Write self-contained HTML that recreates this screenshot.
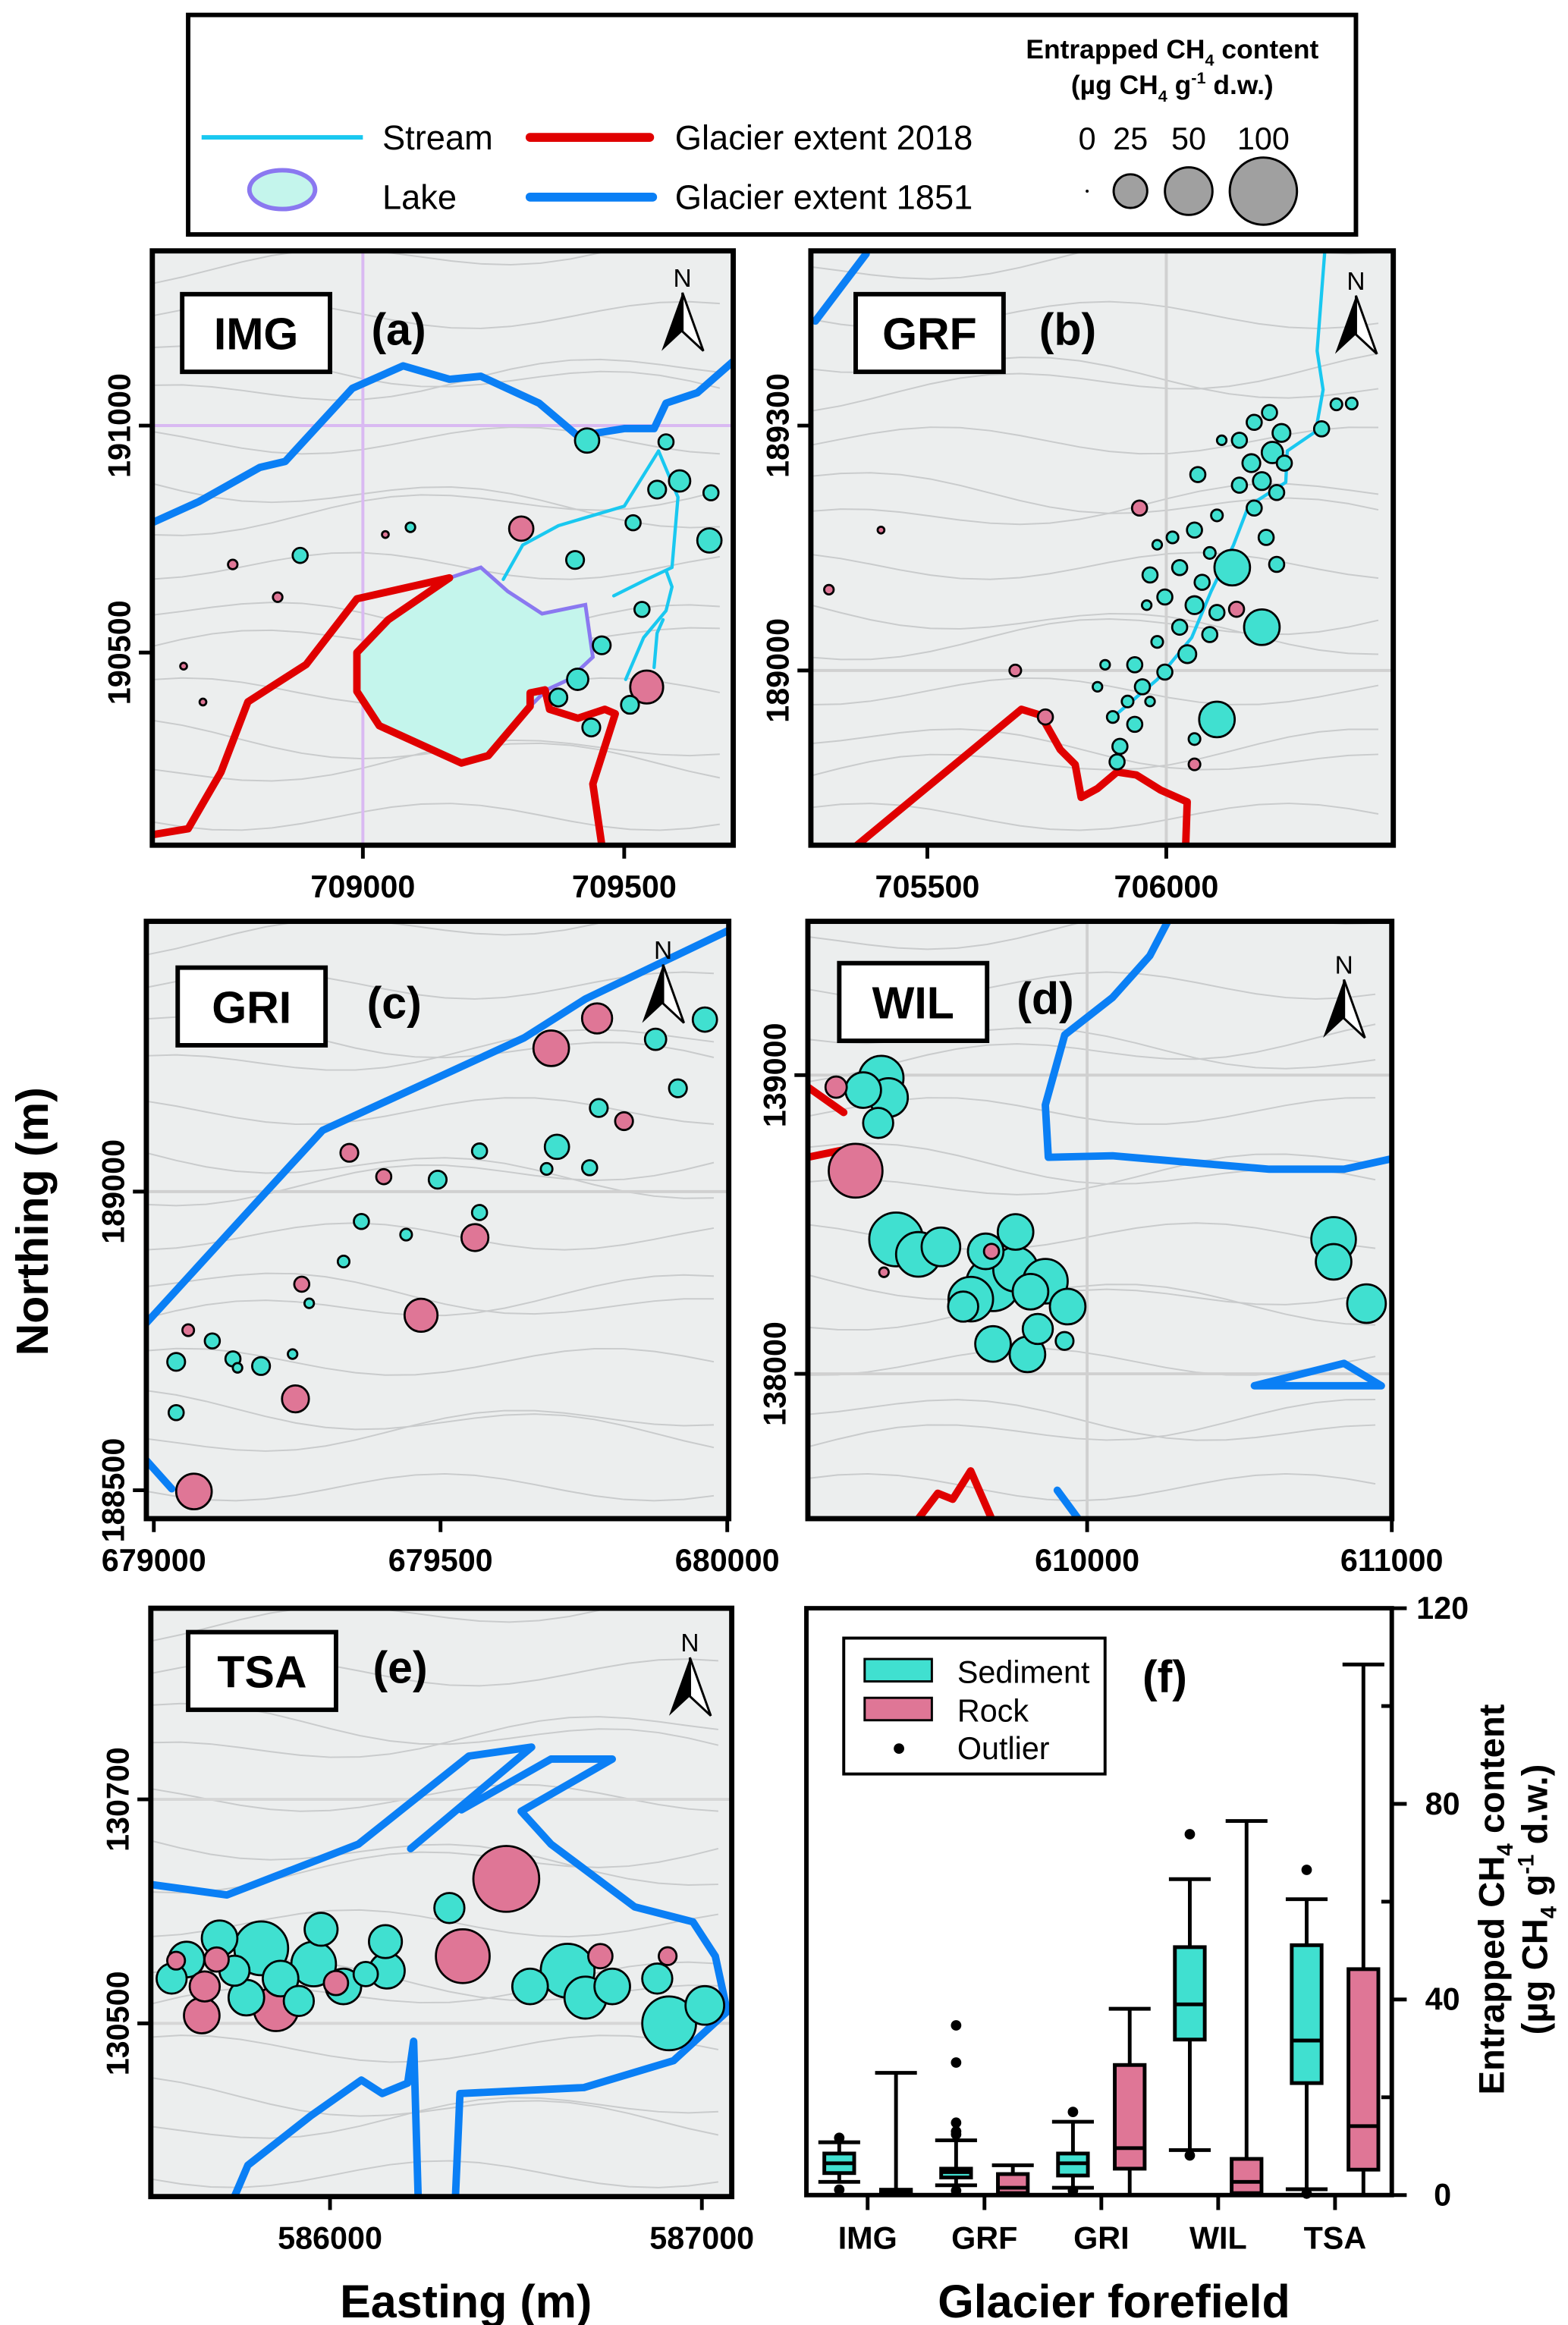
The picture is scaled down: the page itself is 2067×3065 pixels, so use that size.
<!DOCTYPE html>
<html><head><meta charset="utf-8">
<style>
html,body{margin:0;padding:0;background:#fff;}
svg{display:block;}
text{font-family:"Liberation Sans Narrow","Liberation Sans",sans-serif;}
.b{font-weight:bold;}
</style></head>
<body>
<svg id="fig" xmlns="http://www.w3.org/2000/svg" width="2067" height="3065" viewBox="0 0 1050 1557" preserveAspectRatio="none">
<rect x="0" y="0" width="1050" height="1557" fill="#fff"/>

<!-- top legend -->
<g>
<rect x="126" y="10" width="782" height="147" fill="#fff" stroke="#000" stroke-width="3"/>
<line x1="135" y1="92" x2="243" y2="92" stroke="#19c8f0" stroke-width="3"/>
<text x="256" y="100" font-size="23">Stream</text>
<ellipse cx="189" cy="127" rx="22" ry="13" fill="#c4f5ec" stroke="#8a78f0" stroke-width="3"/>
<text x="256" y="140" font-size="23">Lake</text>
<line x1="355" y1="92" x2="435" y2="92" stroke="#e00000" stroke-width="6" stroke-linecap="round"/>
<text x="452" y="100" font-size="23">Glacier extent 2018</text>
<line x1="355" y1="132" x2="437" y2="132" stroke="#0a7ff5" stroke-width="6" stroke-linecap="round"/>
<text x="452" y="140" font-size="23">Glacier extent 1851</text>
<text x="785" y="39" font-size="18" text-anchor="middle" class="b">Entrapped CH<tspan font-size="11" dy="5">4</tspan><tspan dy="-5"> content</tspan></text>
<text x="785" y="63" font-size="18" text-anchor="middle" class="b">(µg CH<tspan font-size="11" dy="5">4</tspan><tspan dy="-5"> g</tspan><tspan font-size="11" dy="-7">-1</tspan><tspan dy="7"> d.w.)</tspan></text>
<g id="sizeLegend"></g>
</g>

<g id="maps"></g>
<g id="boxplot"></g>

<text transform="translate(32,818) rotate(-90)" font-size="30" text-anchor="middle" class="b" style="font-family:'Liberation Sans',sans-serif">Northing (m)</text>
<text x="312" y="1552" font-size="31" text-anchor="middle" class="b" style="font-family:'Liberation Sans',sans-serif">Easting (m)</text>
<text x="746" y="1552" font-size="31" text-anchor="middle" class="b" style="font-family:'Liberation Sans',sans-serif">Glacier forefield</text>
<text transform="translate(1007,1272) rotate(-90)" font-size="24" text-anchor="middle" class="b" style="font-family:'Liberation Sans',sans-serif">Entrapped CH<tspan font-size="15" dy="6">4</tspan><tspan dy="-6"> content</tspan></text>
<text transform="translate(1036,1272) rotate(-90)" font-size="24" text-anchor="middle" class="b" style="font-family:'Liberation Sans',sans-serif">(µg CH<tspan font-size="15" dy="6">4</tspan><tspan dy="-6"> g</tspan><tspan font-size="15" dy="-9">-1</tspan><tspan dy="9"> d.w.)</tspan></text>
</svg>

<script>
// ---------------- DATA ----------------
// map samples: [easting, northing, CH4 content]
const imgSediment = [[709429,190967,13],[709580,190964,5],[709606,190878,10],[709563,190859,7],[709666,190852,5],[709517,190786,5],[709663,190747,13],[709406,190704,7],[708880,190714,5],[709091,190776,2],[709534,190595,5],[709457,190516,7],[709411,190441,10],[709374,190401,7],[709437,190335,7],[709511,190385,7]];
const imgRock = [[709303,190773,13],[709543,190424,24],[709043,190760,1],[708751,190694,2],[708837,190622,2],[708657,190470,1],[708694,190391,1]];
const grfSediment = [[706388,189327,3],[706356,189326,3],[706325,189296,5],[706216,189316,5],[706184,189304,5],[706241,189291,7],[706153,189282,5],[706116,189282,2],[706222,189267,10],[706178,189254,7],[706247,189254,5],[706066,189240,5],[706200,189232,7],[706153,189227,5],[706231,189218,5],[706184,189199,5],[706106,189190,3],[706059,189172,5],[706013,189163,3],[706209,189163,5],[706091,189144,3],[705981,189154,2],[706028,189126,5],[705966,189117,5],[706138,189126,28],[706231,189130,5],[706075,189108,5],[705997,189090,5],[706059,189080,7],[706106,189071,5],[705959,189080,2],[706028,189053,5],[706200,189053,28],[706091,189044,5],[705981,189035,3],[706044,189020,7],[705934,189007,5],[705997,188998,5],[705872,189007,2],[705950,188980,5],[705919,188962,3],[705966,188962,2],[705888,188943,3],[705934,188934,5],[705903,188907,5],[706106,188940,28],[705897,188888,5],[706059,188916,3],[705856,188980,2]];
const grfRock = [[705944,189199,5],[705403,189172,1],[705294,189099,2],[705684,189000,3],[705747,188943,5],[706147,189075,5],[706059,188885,3]];
const griSediment = [[679961,189288,13],[679875,189255,10],[679914,189173,7],[679776,189140,7],[679703,189075,13],[679760,189040,5],[679685,189038,3],[679568,189068,5],[679495,189020,7],[679362,188950,5],[679440,188928,3],[679568,188965,5],[679331,188883,3],[679271,188813,2],[679242,188728,2],[679039,188715,7],[679102,188750,5],[679138,188720,5],[679187,188708,7],[679146,188705,2],[679039,188630,5]];
const griRock = [[679693,189240,28],[679773,189290,20],[679820,189118,7],[679341,189065,7],[679401,189025,5],[679560,188923,16],[679258,188845,5],[679466,188793,24],[679060,188768,3],[679247,188653,16],[679070,188498,28]];
const wilSediment = [[609324,138990,44],[609265,138950,28],[609348,138925,33],[609314,138840,20],[609373,138450,64],[609446,138400,44],[609520,138425,33],[609667,138410,28],[609765,138475,28],[609765,138350,44],[609691,138300,64],[609618,138250,44],[609814,138275,28],[609863,138310,44],[609936,138225,28],[609838,138150,20],[609691,138100,28],[609804,138065,28],[609926,138110,7],[610809,138450,44],[610809,138375,28],[610917,138235,33],[609593,138225,20]];
const wilRock = [[609176,138960,10],[609240,138680,64],[609686,138410,5],[609333,138340,2]];
const tsaSediment = [[585614,130557,28],[585703,130576,28],[585743,130547,20],[585815,130567,64],[585867,130540,28],[585956,130553,44],[585976,130584,24],[586036,130533,28],[585916,130520,20],[585775,130523,28],[586153,130547,28],[586149,130573,24],[586321,130603,20],[586538,130533,28],[586639,130547,64],[586687,130523,39],[586759,130533,28],[586912,130500,64],[587008,130516,33],[586880,130540,20],[585574,130540,20],[586096,130544,13]];
const tsaRock = [[586474,130629,96],[586357,130560,64],[585695,130557,13],[585663,130533,20],[585655,130507,28],[585855,130513,44],[586016,130536,13],[586727,130560,13],[586908,130560,7],[585586,130556,7]];

// map tick labels
const imgXTicks = [709000,709500], imgYTicks = [191000,190500];
const grfXTicks = [705500,706000], grfYTicks = [189300,189000];
const griXTicks = [679000,679500,680000], griYTicks = [189000,188500];
const wilXTicks = [610000,611000], wilYTicks = [139000,138000];
const tsaXTicks = [586000,587000], tsaYTicks = [130700,130500];

// size legend
const legendSizes = [0,25,50,100];

// boxplot (panel f)
const categories = ['IMG','GRF','GRI','WIL','TSA'];
const sedMin = [2.7,2.0,1.5,9.2,1.2];
const sedQ1 = [4.5,3.6,4.0,31.8,22.9];
const sedMed = [6.5,4.7,6.5,39.0,31.6];
const sedQ3 = [8.5,5.4,8.5,50.7,51.1];
const sedMax = [10.8,11.2,15.0,64.6,60.5];
const rockMin = [0,0,0,0,0];
const rockQ1 = [0.3,0.4,5.4,0.4,5.2];
const rockMed = [0.6,1.5,9.6,2.7,14.1];
const rockQ3 = [1.1,4.3,26.6,7.4,46.2];
const rockMax = [25.0,6.1,38.1,76.5,108.5];
const outlierCat = [0,0,1,1,1,1,1,1,2,2,3,3,4,4];
const outlierVal = [11.7,1.1,34.7,27.1,14.8,13.0,12.4,0.9,17.0,0.9,73.8,8.1,66.5,0.3];
const yTicksF = [0,40,80,120];
const yMinorF = [20,60,100];

// ---------------- DRAW ----------------
const NS='http://www.w3.org/2000/svg';
const TEAL='#40e0d0', PINK='#df7696';
function mk(tag, attrs, parent){const e=document.createElementNS(NS,tag);for(const k in attrs)e.setAttribute(k,attrs[k]);parent.appendChild(e);return e;}
function rOf(v){return Math.max(1.2, 2.25*Math.sqrt(v));}

// size legend
const sl=document.getElementById('sizeLegend');
const slx=[728,757,796,846];
legendSizes.forEach((v,i)=>{
  const t=mk('text',{x:slx[i],y:100,'font-size':21,'text-anchor':'middle'},sl); t.textContent=String(v);
  
  
  const c=mk('circle',{cx:slx[i],cy:128,r:v===0?1:rOf(v),fill:v===0?'#000':'#a0a0a0',stroke:'#000','stroke-width':v===0?0:1.5},sl);
  
  
});

const maps=document.getElementById('maps');
function linAxis(d0,p0,d1,p1){return v=>p0+(v-d0)*(p1-p0)/(d1-d0);}

function poly(g,pts,color,w,name,fill){
  const p=mk('polyline',{points:pts.map(q=>q.join(',')).join(' '),fill:fill||'none',stroke:color,'stroke-width':w,'stroke-linejoin':'round','stroke-linecap':'round'},g);
  
  
  return p;
}

const panels=[
 {id:'a',code:'IMG',fr:[102,168,491,566],x:[709000,243,709500,418],y:[191000,285,190500,437],sed:imgSediment,rock:imgRock,xt:imgXTicks,yt:imgYTicks,lab:[122,197],letter:267,north:[457,180],
  grid:{v:[243],h:[285],col:'#d9b9f2'},
  lines:[
   {c:'#0a7ff5',w:5,n:'glacier-1851',p:[[102,350],[133,336],[174,313],[191,309],[236,260],[270,245],[301,254],[322,252],[361,270],[387,292],[418,287],[438,287],[446,270],[467,263],[491,242]]},
   {c:'#19c8f0',w:2.2,n:'stream',p:[[337,388],[350,365],[374,352],[418,339],[441,302]]},
   {c:'#19c8f0',w:2.2,n:'stream',p:[[441,302],[454,333],[450,380],[433,388],[411,399]]},
   {c:'#19c8f0',w:2.2,n:'stream',p:[[446,382],[450,393],[446,409],[431,427],[419,455]]},
   {c:'#19c8f0',w:2.2,n:'stream',p:[[438,447],[440,424],[444,415]]}
  ],
  lake:[[301,387],[322,380],[340,396],[363,411],[392,405],[397,440],[381,455],[366,462],[355,473],[327,506],[309,511],[254,486],[239,463],[239,437],[260,415]],
  red:[[102,559],[126,555],[148,517],[166,470],[205,445],[239,401],[301,387],[260,415],[239,437],[239,463],[254,486],[309,511],[327,506],[355,473],[355,464],[365,462],[368,475],[387,481],[405,475],[412,478],[397,525],[403,566]]},
 {id:'b',code:'GRF',fr:[543,168,933,566],x:[705500,621,706000,781],y:[189300,285,189000,449],sed:grfSediment,rock:grfRock,xt:grfXTicks,yt:grfYTicks,lab:[573,197],letter:715,north:[908,182],
  grid:{v:[781],h:[449],col:'#d0d0d0'},
  lines:[
   {c:'#0a7ff5',w:5,n:'glacier-1851',p:[[546,215],[580,170]]},
   {c:'#19c8f0',w:2.2,n:'stream',p:[[887,170],[882,235],[886,261],[881,289],[862,302],[861,323],[836,339],[826,365],[811,396],[798,427],[775,455],[748,478]]}
  ],
  red:[[574,566],[684,475],[697,479],[710,502],[720,512],[724,534],[735,528],[748,517],[761,519],[777,529],[795,537],[794,566]]},
 {id:'c',code:'GRI',fr:[98,617,488,1017],x:[679000,103,680000,487],y:[189000,798,188500,998],sed:griSediment,rock:griRock,xt:griXTicks,yt:griYTicks,lab:[119,648],letter:264,north:[444,630],
  grid:{v:[],h:[798],col:'#d0d0d0'},
  lines:[
   {c:'#0a7ff5',w:5,n:'glacier-1851',p:[[98,886],[182,794],[216,757],[351,695],[392,669],[488,623]]},
   {c:'#0a7ff5',w:5,n:'glacier-1851',p:[[98,978],[115,997]]}
  ]},
 {id:'d',code:'WIL',fr:[541,617,932,1017],x:[610000,728,611000,932],y:[139000,720,138000,920],sed:wilSediment,rock:wilRock,xt:wilXTicks,yt:wilYTicks,lab:[562,645],letter:700,north:[900,640],
  grid:{v:[728],h:[720,920],col:'#d0d0d0'},
  lines:[
   {c:'#0a7ff5',w:5,n:'glacier-1851',p:[[782,617],[770,640],[745,668],[713,693],[700,740],[702,775],[745,774],[850,783],[900,783],[932,776]]},
   {c:'#0a7ff5',w:5,n:'glacier-1851',p:[[840,928],[900,913],[925,928],[840,928]]},
   {c:'#0a7ff5',w:5,n:'glacier-1851',p:[[708,998],[722,1017]]},
   {c:'#e00000',w:5,n:'glacier-2018',p:[[541,728],[565,745]]},
   {c:'#e00000',w:5,n:'glacier-2018',p:[[541,775],[565,770]]},
   {c:'#e00000',w:5,n:'glacier-2018',p:[[615,1017],[628,1000],[638,1004],[650,985],[664,1017]]}
  ]},
 {id:'e',code:'TSA',fr:[101,1077,490,1471],x:[586000,221,587000,470],y:[130700,1205,130500,1355],sed:tsaSediment,rock:tsaRock,xt:tsaXTicks,yt:tsaYTicks,lab:[126,1093],letter:268,north:[462,1094],
  grid:{v:[],h:[1205,1355],col:'#d6d6d6'},
  lines:[
   {c:'#0a7ff5',w:5,n:'glacier-1851',p:[[101,1262],[152,1269],[240,1235],[314,1176],[356,1170],[275,1238]]},
   {c:'#0a7ff5',w:5,n:'glacier-1851',p:[[309,1212],[369,1178],[410,1178],[349,1213],[369,1235],[425,1277],[464,1287],[479,1310],[487,1347],[451,1380],[391,1398],[308,1402],[305,1471]]},
   {c:'#0a7ff5',w:5,n:'glacier-1851',p:[[157,1471],[166,1450],[208,1417],[242,1393],[256,1402],[273,1395],[277,1367],[280,1471]]}
  ]}
];

panels.forEach(P=>{
  const g=mk('g',{},maps);
  
  
  const [x0,y0,x1,y1]=P.fr;
  const cid='clip'+P.id;
  const cp=mk('clipPath',{id:cid},g); mk('rect',{x:x0,y:y0,width:x1-x0,height:y1-y0},cp);
  const inner=mk('g',{'clip-path':'url(#'+cid+')'},g);
  const bg=mk('rect',{x:x0,y:y0,width:x1-x0,height:y1-y0,fill:'#eceeee'},inner);
  
  
  // decorative contour lines
  for(let k=0;k<14;k++){
    const yy=y0+15+k*28; let d='M'+x0+','+yy;
    for(let xx=x0;xx<=x1;xx+=20){d+=' L'+xx+','+(yy+Math.sin((xx+k*37)/45)*9+(xx-x0)*0.06*((k%3)-1));}
    const cl=mk('path',{d:d,fill:'none',stroke:'#c9cbcc','stroke-width':1},inner);
    
    
  }
  P.grid.v.forEach(v=>{const l=mk('line',{x1:v,y1:y0,x2:v,y2:y1,stroke:P.grid.col,'stroke-width':2},inner);});
  P.grid.h.forEach(v=>{const l=mk('line',{x1:x0,y1:v,x2:x1,y2:v,stroke:P.grid.col,'stroke-width':2},inner);});
  if(P.lake){const lk=mk('polygon',{points:P.lake.map(q=>q.join(',')).join(' '),fill:'#c4f5ec',stroke:'#8a78f0','stroke-width':2.5},inner);}
  if(P.red) poly(inner,P.red,'#e00000',5,'glacier-2018');
  P.lines.forEach(L=>poly(inner,L.p,L.c,L.w,L.n));
  // samples
  const X=linAxis(P.x[0],P.x[1],P.x[2],P.x[3]), Y=linAxis(P.y[0],P.y[1],P.y[2],P.y[3]);
  const all=P.sed.map(s=>[s,TEAL,'sediment']).concat(P.rock.map(s=>[s,PINK,'rock']));
  all.sort((a,b)=>b[0][2]-a[0][2]);
  all.forEach(([s,col,kind])=>{
    const c=mk('circle',{cx:X(s[0]),cy:Y(s[1]),r:rOf(s[2]),fill:col,stroke:'#000','stroke-width':1.4},inner);
    
    
  });
  // label box
  const lb=mk('rect',{x:P.lab[0],y:P.lab[1],width:99,height:52,fill:'#fff',stroke:'#000','stroke-width':3},g);
  
  
  const lt=mk('text',{x:P.lab[0]+49.5,y:P.lab[1]+37,'font-size':30,'text-anchor':'middle','class':'b',style:"font-family:'Liberation Sans',sans-serif"},g); lt.textContent=P.code;
  
  
  const pl=mk('text',{x:P.letter,y:P.lab[1]+34,'font-size':30,'text-anchor':'middle','class':'b',style:"font-family:'Liberation Sans',sans-serif"},g); pl.textContent='('+P.id+')';
  
  
  // north arrow
  const [nx,ny]=P.north;
  const nt=mk('text',{x:nx,y:ny+12,'font-size':17,'text-anchor':'middle'},g); nt.textContent='N';
  
  
  const na=mk('g',{},g);
  
  
  mk('polygon',{points:`${nx},${ny+16} ${nx-14},${ny+55} ${nx},${ny+42}`,fill:'#000'},na);
  mk('polygon',{points:`${nx},${ny+16} ${nx+14},${ny+55} ${nx},${ny+42}`,fill:'#fff',stroke:'#000','stroke-width':1.5},na);
  // frame
  const fr=mk('rect',{x:x0,y:y0,width:x1-x0,height:y1-y0,fill:'none',stroke:'#000','stroke-width':3.5},g);
  
  
  // ticks
  P.xt.forEach(v=>{
    const px=X(v);
    const tk=mk('line',{x1:px,y1:y1,x2:px,y2:y1+9,stroke:'#000','stroke-width':2.5},g);
    
    
    const t=mk('text',{x:px,y:y1+35,'font-size':21,'text-anchor':'middle','class':'b'},g); t.textContent=String(v);
    
    
  });
  P.yt.forEach(v=>{
    const py=Y(v);
    const tk=mk('line',{x1:x0-9,y1:py,x2:x0,y2:py,stroke:'#000','stroke-width':2.5},g);
    
    
    const t=mk('text',{transform:`translate(${x0-15},${py}) rotate(-90)`,'font-size':21,'text-anchor':'middle','class':'b'},g); t.textContent=String(v);
    
    
  });
});

// ---------------- panel f ----------------
const bp=document.getElementById('boxplot');
const FX0=540,FY0=1077,FX1=932,FY1=1470;
const yF=linAxis(0,FY1,120,FY0);
const xF=linAxis(0,581,4,894);
const fb=mk('rect',{x:FX0,y:FY0,width:FX1-FX0,height:FY1-FY0,fill:'#fff',stroke:'#000','stroke-width':3},bp);


function drawBox(i,off,mn,q1,md,q3,mx,col,kind){
  const cx=xF(i)+off, bw=20, cw=28;
  const g=mk('g',{},bp);
  
  
  mk('line',{x1:cx,y1:yF(mx),x2:cx,y2:yF(q3),stroke:'#000','stroke-width':2.5},g);
  mk('line',{x1:cx,y1:yF(q1),x2:cx,y2:yF(mn),stroke:'#000','stroke-width':2.5},g);
  mk('line',{x1:cx-cw/2,y1:yF(mx),x2:cx+cw/2,y2:yF(mx),stroke:'#000','stroke-width':2.5},g);
  mk('line',{x1:cx-cw/2,y1:yF(mn),x2:cx+cw/2,y2:yF(mn),stroke:'#000','stroke-width':2.5},g);
  mk('rect',{x:cx-bw/2,y:yF(q3),width:bw,height:Math.max(1,yF(q1)-yF(q3)),fill:col,stroke:'#000','stroke-width':2.5},g);
  mk('line',{x1:cx-bw/2,y1:yF(md),x2:cx+bw/2,y2:yF(md),stroke:'#000','stroke-width':2.5},g);
}
categories.forEach((c,i)=>{
  drawBox(i,-19,sedMin[i],sedQ1[i],sedMed[i],sedQ3[i],sedMax[i],TEAL,'sediment');
  drawBox(i,19,rockMin[i],rockQ1[i],rockMed[i],rockQ3[i],rockMax[i],PINK,'rock');
  const tk=mk('line',{x1:xF(i),y1:FY1,x2:xF(i),y2:FY1+10,stroke:'#000','stroke-width':2.5},bp);
  
  
  const t=mk('text',{x:xF(i),y:FY1+36,'font-size':21,'text-anchor':'middle','class':'b'},bp); t.textContent=c;
  
  
});
outlierCat.forEach((ci,k)=>{
  const d=mk('circle',{cx:xF(ci)-19,cy:yF(outlierVal[k]),r:3.5,fill:'#000'},bp);
  
  
});
yTicksF.forEach(v=>{
  const tk=mk('line',{x1:FX1,y1:yF(v),x2:FX1+10,y2:yF(v),stroke:'#000','stroke-width':2.5},bp);
  
  
  const t=mk('text',{x:FX1+34,y:yF(v)+7,'font-size':21,'text-anchor':'middle','class':'b'},bp); t.textContent=String(v);
  
  
});
yMinorF.forEach(v=>{
  const tk=mk('line',{x1:FX1-7,y1:yF(v),x2:FX1,y2:yF(v),stroke:'#000','stroke-width':2.5},bp);
  
  
});
// legend f
const lg=mk('g',{},bp);


mk('rect',{x:565,y:1097,width:175,height:91,fill:'#fff',stroke:'#000','stroke-width':2},lg);
mk('rect',{x:579,y:1111,width:45,height:15,fill:TEAL,stroke:'#000','stroke-width':1.5},lg);
mk('rect',{x:579,y:1137,width:45,height:15,fill:PINK,stroke:'#000','stroke-width':1.5},lg);
mk('circle',{cx:602,cy:1171,r:3.5,fill:'#000'},lg);
[['Sediment',1127],['Rock',1153],['Outlier',1178]].forEach(([s,y])=>{
  const t=mk('text',{x:641,y:y,'font-size':21},lg); t.textContent=s;
  
  
});
const fl=mk('text',{x:780,y:1133,'font-size':30,'text-anchor':'middle','class':'b',style:"font-family:'Liberation Sans',sans-serif"},bp); fl.textContent='(f)';


</script>
</body></html>
